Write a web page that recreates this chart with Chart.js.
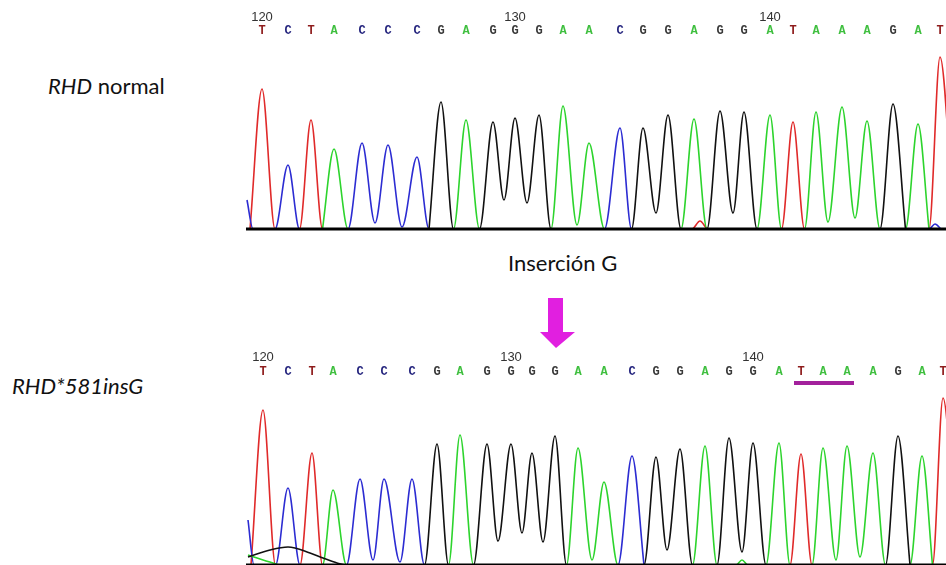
<!DOCTYPE html>
<html>
<head>
<meta charset="utf-8">
<script src="https://cdn.jsdelivr.net/npm/chart.js@4.4.0/dist/chart.umd.min.js"></script>
<style>
  html, body { margin: 0; padding: 0; background: #fff; }
  #page { position: relative; width: 946px; height: 565px; overflow: hidden; font-family: Lato, "Open Sans", sans-serif; color: #111; }
  #chartNormal { position: absolute; left: 246px; top: 0; }
  #chartIns { position: absolute; left: 246px; top: 320px; }
  .lbl { position: absolute; font-size: 22px; line-height: 22px; white-space: nowrap; }
  #flecha { position: absolute; left: 0; top: 0; }
</style>
</head>
<body>
<div id="page">
  <div class="lbl" style="left:48px; top:75px;"><i>RHD</i> normal</div>
  <div class="lbl" style="left:12px; top:375px;"><i>RHD*581insG</i></div>
  <div class="lbl" style="left:508px; top:252px;">Inserción G</div>
  <svg id="flecha" width="946" height="565">
    <polygon points="548,298 563,298 563,332 575,332 556,348 540,332 548,332" fill="#e11fe0"/>
  </svg>
  <canvas id="chartNormal" width="700" height="232"></canvas>
  <canvas id="chartIns" width="700" height="245"></canvas>
</div>
<script>
// posiciones en "scans" (0 = borde izquierdo del trazo), alturas en unidades de señal

// RHD normal
const topCalls = "TCTACCCGAGGGAACGGAGGATAAAGAT";
const topPeakX = [16, 42, 65, 88, 116, 142, 171, 195, 220, 247, 269, 293, 317, 343, 374, 397, 422, 448, 474, 498, 524, 547, 570, 596, 621, 647, 672, 694];
const topPeakY = [140, 64, 109, 80, 86, 84, 72, 127, 109, 107, 111, 114, 123, 86, 101, 101, 114, 110, 118, 117, 114, 107, 117, 122, 108, 125, 105, 172];
// valles entre picos vecinos de la misma base
const topDipX = [129, 156, 258, 281, 331, 410, 487, 582, 609];
const topDipY = [6, 2, 29, 26, 4, 16, 16, 7, 11];
// restos de señal (colas y ruido de fondo)
const topExtraBase = "CCTTTCCC";
const topExtraX = [1, 7, 446, 454, 462, 683, 689, 695];
const topExtraY = [29, 0, 0, 8, 0, 0, 5, 0];

// RHD*581insG
const botCalls = "TCTACCCGAGGGGAACGGAGGATAAAGAT";
const botPeakX = [17, 42, 66, 87, 114, 138, 166, 191, 214, 241, 265, 286, 309, 332, 358, 386, 410, 434, 459, 483, 507, 533, 555, 577, 601, 627, 652, 676, 697];
const botPeakY = [155, 77, 112, 75, 86, 86, 86, 121, 130, 121, 121, 112, 129, 117, 83, 109, 108, 116, 119, 127, 122, 122, 111, 117, 119, 112, 129, 109, 167];
const botDipX = [127, 154, 252, 276, 297, 346, 421, 496, 590, 614];
const botDipY = [5, 3, 24, 32, 23, 5, 15, 13, 5, 8];
const botExtraBase = "GGGGGGGCCAAAAAA";
const botExtraX = [2, 24, 42, 64, 77, 91, 100, 2, 8, 2, 27, 35, 490, 496, 502];
const botExtraY = [8, 15, 18, 12, 7, 2, 0, 45, 0, 10, 2, 0, 0, 5, 0];

const numInicio = 120;
const codonStop = [22, 24]; // T A A subrayado en la secuencia mutada

const colores = { A: "#2dd42d", C: "#2c2cd2", G: "#111111", T: "#e02a2a" };
const coloresLetra = { A: "#3fbf3f", C: "#25257e", G: "#3a3a3a", T: "#8e1c1c" };

function trazas(calls, peakX, peakY, dipX, dipY, exBase, exX, exY) {
    const pts = { A: [], C: [], G: [], T: [] };
    let d = 0;
    for (let i = 0; i < calls.length; i++) {
        const b = calls[i];
        if (calls[i - 1] !== b) {
            const fx = i > 0 ? (peakX[i - 1] + peakX[i]) / 2 : peakX[i] - 12;
            pts[b].push({ x: fx, y: 0 });
        }
        pts[b].push({ x: peakX[i], y: peakY[i] });
        if (calls[i + 1] === b) {
            pts[b].push({ x: dipX[d], y: dipY[d] });
            d++;
        } else {
            const fx = i < calls.length - 1 ? (peakX[i] + peakX[i + 1]) / 2 : peakX[i] + 14;
            pts[b].push({ x: fx, y: 0 });
        }
    }
    for (let k = 0; k < exBase.length; k++) {
        pts[exBase[k]].push({ x: exX[k], y: exY[k] });
    }
    return ["G", "A", "C", "T"].map(b => {
        const orden = pts[b].sort((p, q) => p.x - q.x);
        // sin x repetidas, si no la interpolación monótona se rompe
        const data = orden.filter((p, i) => i === 0 || p.x !== orden[i - 1].x);
        return {
            label: b,
            data,
            borderColor: colores[b],
            borderWidth: 1.6,
            pointRadius: 0,
            cubicInterpolationMode: "monotone",
            fill: false
        };
    });
}

// letras, numeración, línea base y subrayado
const rotulos = {
    id: "rotulos",
    afterDraw(chart, args, o) {
        const { ctx, chartArea, scales: { x } } = chart;
        ctx.save();
        ctx.textAlign = "center";
        ctx.textBaseline = "middle";
        for (let i = 0; i < o.calls.length; i++) {
            const px = x.getPixelForValue(o.peakX[i]);
            ctx.font = "bold 12px 'Liberation Mono', monospace";
            ctx.fillStyle = coloresLetra[o.calls[i]];
            ctx.fillText(o.calls[i], px, o.letY);
            if (i % 10 === 0) {
                ctx.font = "13px 'Liberation Sans', sans-serif";
                ctx.fillStyle = "#333";
                ctx.fillText(String(numInicio + i), px, o.numY);
            }
        }
        if (o.stop) {
            const x0 = x.getPixelForValue(o.peakX[o.stop[0]]) - 7;
            const x1 = x.getPixelForValue(o.peakX[o.stop[1]]) + 7;
            ctx.fillStyle = "#a3219c";
            ctx.fillRect(x0, o.letY + 9, x1 - x0, 4);
        }
        ctx.fillStyle = "#000";
        ctx.fillRect(chartArea.left, chartArea.bottom - 1.5, chartArea.right - chartArea.left, 3);
        ctx.restore();
    }
};

function crearGrafico(id, datasets, yMax, padTop, padBottom, rot) {
    new Chart(document.getElementById(id), {
        type: "line",
        data: { datasets },
        plugins: [rotulos],
        options: {
            responsive: false,
            animation: false,
            layout: { padding: { top: padTop, bottom: padBottom, left: 0, right: 0 } },
            plugins: { legend: { display: false }, tooltip: { enabled: false }, rotulos: rot },
            scales: {
                x: { type: "linear", min: 0, max: 700, display: false },
                y: { min: 0, max: yMax, display: false }
            }
        }
    });
}

crearGrafico("chartNormal",
    trazas(topCalls, topPeakX, topPeakY, topDipX, topDipY, topExtraBase, topExtraX, topExtraY),
    189, 40, 3,
    { calls: topCalls, peakX: topPeakX, numY: 17, letY: 31 });

crearGrafico("chartIns",
    trazas(botCalls, botPeakX, botPeakY, botDipX, botDipY, botExtraBase, botExtraX, botExtraY),
    170, 75, 0,
    { calls: botCalls, peakX: botPeakX, numY: 37, letY: 52, stop: codonStop });
</script>
</body>
</html>
